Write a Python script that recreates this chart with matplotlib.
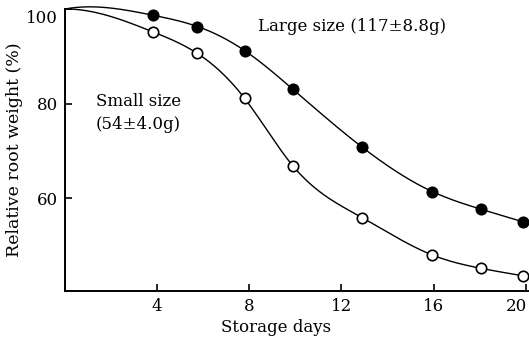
import numpy as np
import matplotlib
matplotlib.use("Agg")
import matplotlib.pyplot as plt
import matplotlib.transforms as mtransforms

# ---- data ----
days = [3.8, 5.75, 7.8, 9.9, 12.9, 15.95, 18.05, 19.9]
large = [98.7, 96.3, 91.2, 83.0, 70.8, 61.4, 57.7, 55.0]
small = [95.2, 90.6, 81.1, 66.8, 55.9, 48.0, 45.2, 43.6]
start_day, start_val = 0.0, 100.0
x_ticks = [4, 8, 12, 16, 20]
y_ticks = [60, 80, 100]

FONT = "DejaVu Serif"


def smooth(xs, ys, slope0, n=400):
    # cubic spline, clamped slope at the start, natural at the end
    x = np.asarray(xs, float)
    y = np.asarray(ys, float)
    m = len(x)
    h = np.diff(x)
    A = np.zeros((m, m))
    b = np.zeros(m)
    A[0, 0] = 2 * h[0]
    A[0, 1] = h[0]
    b[0] = 6 * ((y[1] - y[0]) / h[0] - slope0)
    for i in range(1, m - 1):
        A[i, i - 1] = h[i - 1]
        A[i, i] = 2 * (h[i - 1] + h[i])
        A[i, i + 1] = h[i]
        b[i] = 6 * ((y[i + 1] - y[i]) / h[i] - (y[i] - y[i - 1]) / h[i - 1])
    A[-1, -1] = 1.0
    M = np.linalg.solve(A, b)
    xx = np.linspace(x[0], x[-1], n)
    idx = np.clip(np.searchsorted(x, xx) - 1, 0, m - 2)
    x0, x1 = x[idx], x[idx + 1]
    hh = x1 - x0
    yy = (M[idx] * (x1 - xx) ** 3 / (6 * hh) + M[idx + 1] * (xx - x0) ** 3 / (6 * hh)
          + (y[idx] / hh - M[idx] * hh / 6) * (x1 - xx)
          + (y[idx + 1] / hh - M[idx + 1] * hh / 6) * (xx - x0))
    return xx, yy


fig = plt.figure(figsize=(5.29, 3.40), dpi=100)
ax = fig.add_axes([65 / 529, 1 - 291 / 340, 463 / 529, 282 / 340])

for vals, slope0, face in [(large, 0.9, "black"), (small, 0.05, "white")]:
    xx, yy = smooth([start_day] + days, [start_val] + vals, slope0)
    ax.plot(xx, yy, color="black", lw=1.0, clip_on=False, zorder=2)
    ax.plot(days, vals, "o", ms=7.5, mfc=face, mec="black", mew=1.2,
            clip_on=False, zorder=3)

ax.set_xlim(0, 20.1)
ax.set_ylim(40.4, 100)
ax.set_xticks(x_ticks)
ax.set_yticks(y_ticks)

for s in ["top", "right"]:
    ax.spines[s].set_visible(False)
for s in ["left", "bottom"]:
    ax.spines[s].set_linewidth(1.4)

ax.tick_params(direction="in", length=5, width=1.2, pad=5, labelsize=12)
for lab in ax.get_xticklabels() + ax.get_yticklabels():
    lab.set_fontfamily(FONT)

# the "100" label sits a little below the top of the axis in the original,
# and "20" is pulled in from the right edge
lab100 = ax.get_yticklabels()[-1]
lab100.set_transform(lab100.get_transform() +
                     mtransforms.ScaledTranslation(0, -8 / 100, fig.dpi_scale_trans))
lab20 = ax.get_xticklabels()[-1]
lab20.set_transform(lab20.get_transform() +
                    mtransforms.ScaledTranslation(-9 / 100, 0, fig.dpi_scale_trans))

ax.set_xlabel("Storage days", fontfamily=FONT, fontsize=12, labelpad=3)
ax.xaxis.label.set_x(0.456)
ax.set_ylabel("Relative root weight (%)", fontfamily=FONT, fontsize=12.5, labelpad=2)

ax.text(8.4, 96.2, "Large size (117\u00b18.8g)", fontfamily=FONT, fontsize=12,
        ha="left", va="center")
ax.text(1.35, 80.5, "Small size", fontfamily=FONT, fontsize=12, ha="left", va="center")
ax.text(1.35, 75.6, "(54\u00b14.0g)", fontfamily=FONT, fontsize=12, ha="left", va="center")

fig.savefig("out.png", dpi=100)
